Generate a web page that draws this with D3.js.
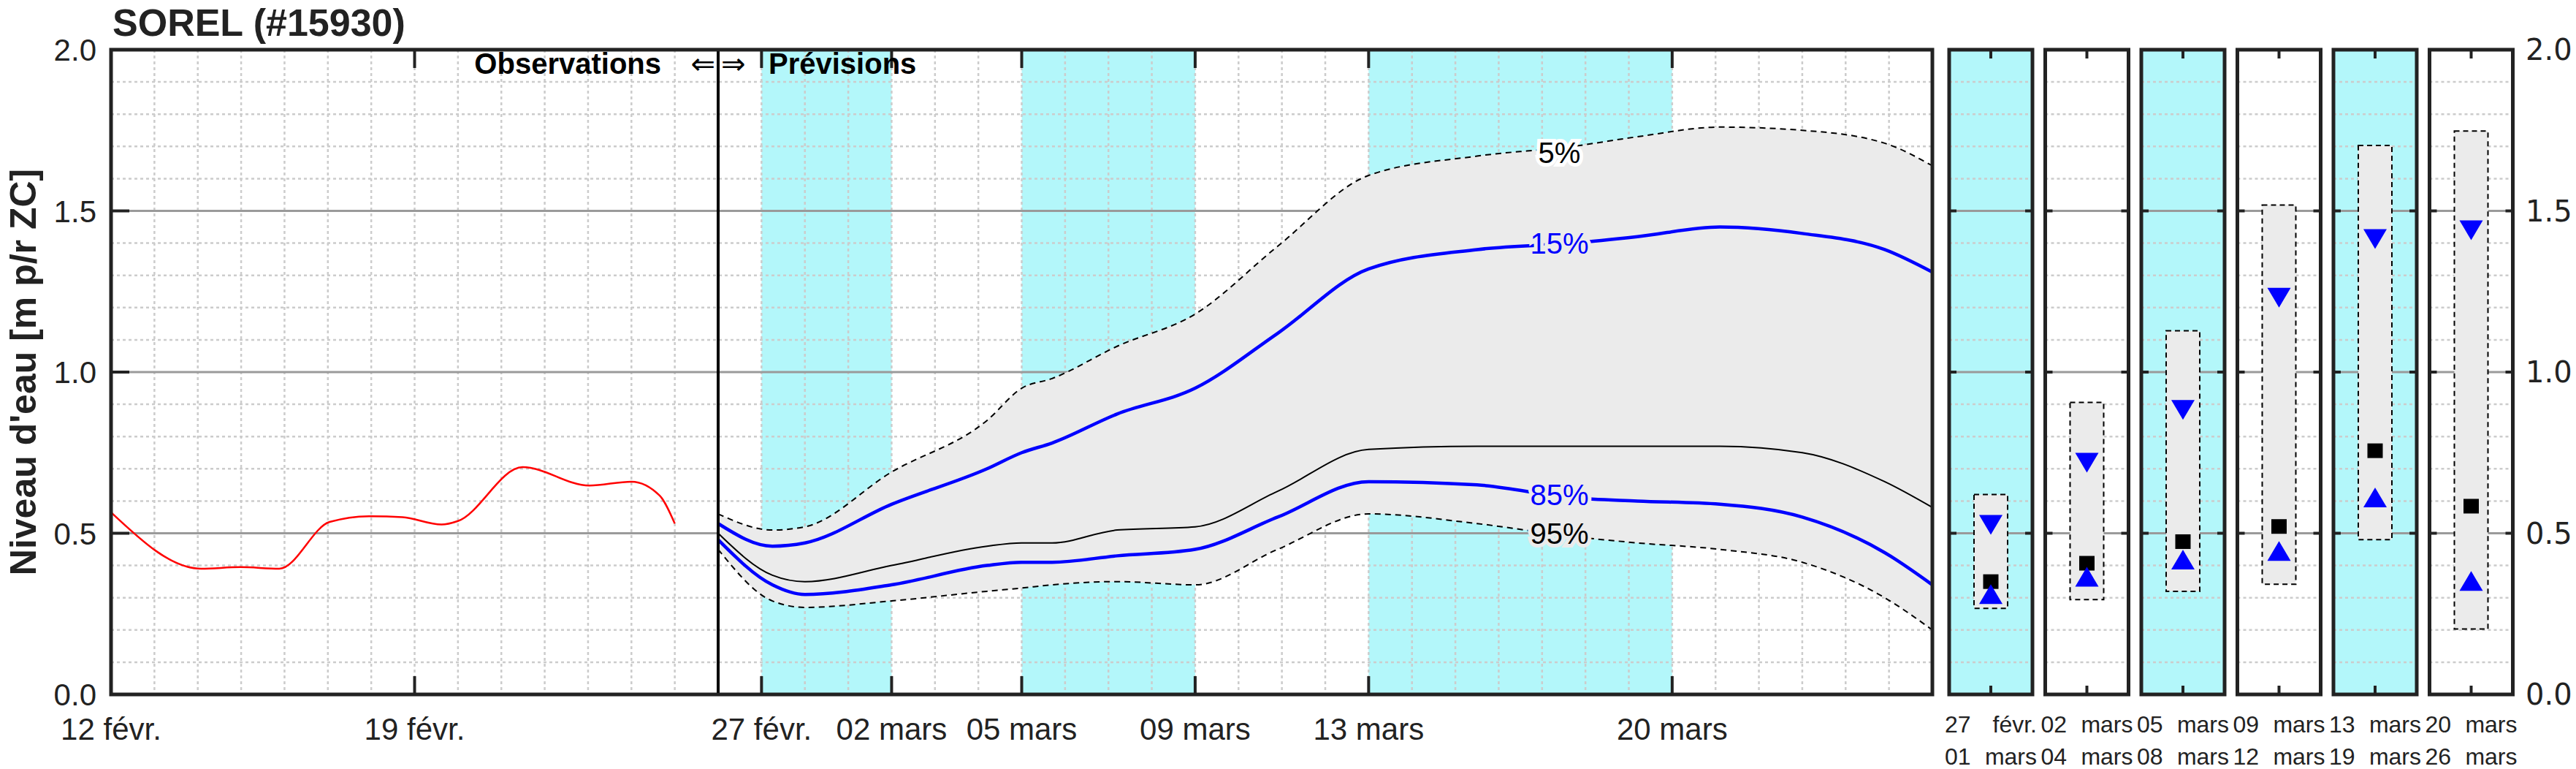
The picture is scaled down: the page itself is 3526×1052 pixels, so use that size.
<!DOCTYPE html>
<html><head><meta charset="utf-8">
<script src="https://cdn.jsdelivr.net/npm/d3@7"></script>
<style>body{margin:0;background:#fff}svg{display:block}</style>
</head><body>
<svg id="chart" width="3526" height="1052"></svg>
<script>
// observations (days since 12 févr.)
const obsDays = [0, 2.08, 2.98, 3.88, 5.04, 5.95, 6.72, 7.62, 8.0, 9.49, 11.03, 12.0, 12.65, 13.0];
const obsVals = [0.565, 0.39, 0.395, 0.39, 0.535, 0.553, 0.55, 0.527, 0.538, 0.705, 0.648, 0.66, 0.617, 0.53];

const fcDays = [14, 15.25, 16, 18, 20.2, 21, 21.7, 23.2, 25, 26.9, 29, 31.5, 33.7, 35.2, 37.1, 39, 40.9, 42];
const p5  = [0.56, 0.51, 0.52, 0.69, 0.85, 0.95, 0.98, 1.08, 1.18, 1.39, 1.61, 1.67, 1.70, 1.73, 1.76, 1.75, 1.71, 1.64];
const p15 = [0.53, 0.46, 0.47, 0.59, 0.70, 0.75, 0.78, 0.87, 0.95, 1.12, 1.32, 1.38, 1.40, 1.42, 1.45, 1.43, 1.38, 1.31];
const p50 = [0.50, 0.37, 0.35, 0.40, 0.46, 0.47, 0.47, 0.51, 0.52, 0.63, 0.76, 0.77, 0.77, 0.77, 0.77, 0.75, 0.66, 0.58];
const p85 = [0.48, 0.34, 0.31, 0.34, 0.40, 0.41, 0.41, 0.43, 0.45, 0.55, 0.66, 0.65, 0.61, 0.60, 0.59, 0.55, 0.44, 0.34];
const p95 = [0.45, 0.29, 0.27, 0.29, 0.32, 0.33, 0.34, 0.35, 0.34, 0.45, 0.56, 0.53, 0.49, 0.47, 0.45, 0.41, 0.30, 0.20];

const pctLabels = ["5%", "15%", "85%", "95%"];
const pctLabelVals = [1.68, 1.40, 0.62, 0.50];

const cyanBands = [[15, 18], [21, 25], [29, 36]];
const dateTicks = [0, 7, 15, 18, 21, 25, 29, 36];
const dateLabels = ["12 févr.", "19 févr.", "27 févr.", "02 mars", "05 mars", "09 mars", "13 mars", "20 mars"];

// period panels
const periodTop = ["27|févr.", "02|mars", "05|mars", "09|mars", "13|mars", "20|mars"];
const periodBot = ["01|mars", "04|mars", "08|mars", "12|mars", "19|mars", "26|mars"];
const periodCyan = [true, false, true, false, true, false];
const periodMax = [0.62, 0.906, 1.128, 1.518, 1.703, 1.748];
const periodMin = [0.267, 0.294, 0.32, 0.342, 0.48, 0.203];
const periodHi = [0.527, 0.72, 0.884, 1.232, 1.414, 1.441];
const periodMed = [0.35, 0.407, 0.474, 0.521, 0.756, 0.584];
const periodLo = [0.31, 0.364, 0.417, 0.444, 0.61, 0.351];

const yTicks = [0, 0.5, 1.0, 1.5, 2.0];

const svg = d3.select("#chart");
const L = 152, R = 2645, T = 68, B = 950;
const x = d3.scaleLinear().domain([0, 42]).range([L, R]);
const y = d3.scaleLinear().domain([0, 2]).range([B, T]);
const font = "'Liberation Sans', Arial, sans-serif";

// cyan bands
svg.selectAll(".band").data(cyanBands).enter().append("rect")
  .attr("x", d => x(d[0])).attr("width", d => x(d[1]) - x(d[0]))
  .attr("y", T).attr("height", B - T).attr("fill", "#b3f7fa");

// grid
const minor = d3.range(0.1, 2, 0.1).filter(v => Math.abs(v * 2 - Math.round(v * 2)) > 0.01);
svg.append("g").selectAll("line").data(minor).enter().append("line")
  .attr("x1", L).attr("x2", R).attr("y1", d => y(d)).attr("y2", d => y(d))
  .attr("stroke", "#ccc").attr("stroke-width", 2.5).attr("stroke-dasharray", "4,4");
svg.append("g").selectAll("line").data(d3.range(1, 42)).enter().append("line")
  .attr("y1", T).attr("y2", B).attr("x1", d => x(d)).attr("x2", d => x(d))
  .attr("stroke", "#ccc").attr("stroke-width", 2.5).attr("stroke-dasharray", "4,4");
svg.append("g").selectAll("line").data([0.5, 1, 1.5]).enter().append("line")
  .attr("x1", L).attr("x2", R).attr("y1", d => y(d)).attr("y2", d => y(d))
  .attr("stroke", "#9a9a9a").attr("stroke-width", 3);

// forecast envelope
const area = d3.area().x((d, i) => x(fcDays[i])).y0((d, i) => y(p95[i])).y1(d => y(d)).curve(d3.curveMonotoneX);
svg.append("path").attr("d", area(p5)).attr("fill", "#ebebeb");
const line = d3.line().x((d, i) => x(fcDays[i])).y(d => y(d)).curve(d3.curveMonotoneX);
svg.append("path").attr("d", line(p5)).attr("fill", "none").attr("stroke", "#000").attr("stroke-width", 2).attr("stroke-dasharray", "8,6");
svg.append("path").attr("d", line(p95)).attr("fill", "none").attr("stroke", "#000").attr("stroke-width", 2).attr("stroke-dasharray", "8,6");
svg.append("path").attr("d", line(p50)).attr("fill", "none").attr("stroke", "#000").attr("stroke-width", 2);
svg.append("path").attr("d", line(p15)).attr("fill", "none").attr("stroke", "#0000ff").attr("stroke-width", 4.5);
svg.append("path").attr("d", line(p85)).attr("fill", "none").attr("stroke", "#0000ff").attr("stroke-width", 4.5);

const obsLine = d3.line().x((d, i) => x(obsDays[i])).y(d => y(d)).curve(d3.curveMonotoneX);
svg.append("path").attr("d", obsLine(obsVals)).attr("fill", "none").attr("stroke", "#ff0000").attr("stroke-width", 2.5);

// percentile labels
const pctColors = ["#000", "#0000ff", "#0000ff", "#000"];
pctLabels.forEach((t, i) => {
  svg.append("text").attr("x", x(33.4)).attr("y", y(pctLabelVals[i])).attr("dy", "0.35em")
    .attr("text-anchor", "middle").attr("font-family", font).attr("font-size", 40)
    .attr("fill", pctColors[i]).attr("stroke", i === 0 ? "#fff" : "#ebebeb").attr("stroke-width", 10)
    .attr("paint-order", "stroke").text(t);
});

// separator + frame
svg.append("line").attr("x1", x(14)).attr("x2", x(14)).attr("y1", T).attr("y2", B).attr("stroke", "#000").attr("stroke-width", 4);
svg.append("rect").attr("x", L).attr("y", T).attr("width", R - L).attr("height", B - T)
  .attr("fill", "none").attr("stroke", "#222").attr("stroke-width", 5);

// ticks
const ax = svg.append("g").attr("font-family", font).attr("font-size", 42).attr("fill", "#222");
dateTicks.forEach((d, i) => {
  ax.append("line").attr("x1", x(d)).attr("x2", x(d)).attr("y1", B).attr("y2", B - 25).attr("stroke", "#222").attr("stroke-width", 4);
  ax.append("line").attr("x1", x(d)).attr("x2", x(d)).attr("y1", T).attr("y2", T + 25).attr("stroke", "#222").attr("stroke-width", 4);
  ax.append("text").attr("x", x(d)).attr("y", 1012).attr("text-anchor", "middle").text(dateLabels[i]);
});
yTicks.forEach(v => {
  ax.append("line").attr("x1", L).attr("x2", L + 25).attr("y1", y(v)).attr("y2", y(v)).attr("stroke", "#222").attr("stroke-width", 4);
  ax.append("text").attr("x", L - 20).attr("y", y(v)).attr("dy", "0.36em").attr("text-anchor", "end").text(v.toFixed(1));
});

svg.append("text").attr("x", L + 2).attr("y", 49).attr("font-family", font).attr("font-weight", "bold")
  .attr("font-size", 52).attr("fill", "#222").text("SOREL (#15930)");
svg.append("text").attr("transform", `translate(49,${(T + B) / 2}) rotate(-90)`).attr("text-anchor", "middle")
  .attr("font-family", font).attr("font-weight", "bold").attr("font-size", 50).attr("fill", "#222").text("Niveau d'eau [m p/r ZC]");
svg.append("text").attr("x", 905).attr("y", 101).attr("text-anchor", "end").attr("font-family", font)
  .attr("font-weight", "bold").attr("font-size", 40).text("Observations");
svg.append("text").attr("x", x(14) - 4).attr("y", 101).attr("text-anchor", "end").attr("font-family", "'DejaVu Sans'")
  .attr("font-size", 40).text("⇐");
svg.append("text").attr("x", x(14) + 4).attr("y", 101).attr("font-family", "'DejaVu Sans'").attr("font-size", 40).text("⇒");
svg.append("text").attr("x", 1052).attr("y", 101).attr("font-family", font)
  .attr("font-weight", "bold").attr("font-size", 40).text("Prévisions");

// period panels
const pw = 114, pitch = 131.5, p0 = 2668;
periodMax.forEach((mx, i) => {
  const px = p0 + i * pitch, cx = px + pw / 2;
  const g = svg.append("g");
  g.append("rect").attr("x", px).attr("y", T).attr("width", pw).attr("height", B - T).attr("fill", periodCyan[i] ? "#b3f7fa" : "#fff");
  minor.forEach(v => g.append("line").attr("x1", px).attr("x2", px + pw).attr("y1", y(v)).attr("y2", y(v))
    .attr("stroke", "#ccc").attr("stroke-width", 2.5).attr("stroke-dasharray", "4,4"));
  [0.5, 1, 1.5].forEach(v => {
    g.append("line").attr("x1", px).attr("x2", px + pw).attr("y1", y(v)).attr("y2", y(v)).attr("stroke", "#9a9a9a").attr("stroke-width", 3);
    g.append("line").attr("x1", px).attr("x2", px + 10).attr("y1", y(v)).attr("y2", y(v)).attr("stroke", "#222").attr("stroke-width", 4);
    g.append("line").attr("x1", px + pw - 10).attr("x2", px + pw).attr("y1", y(v)).attr("y2", y(v)).attr("stroke", "#222").attr("stroke-width", 4);
  });
  g.append("rect").attr("x", cx - 23).attr("width", 46).attr("y", y(mx)).attr("height", y(periodMin[i]) - y(mx))
    .attr("fill", "#ebebeb").attr("stroke", "#000").attr("stroke-width", 2).attr("stroke-dasharray", "7,5");
  g.append("path").attr("d", `M${cx - 16},${y(periodHi[i]) - 13}L${cx + 16},${y(periodHi[i]) - 13}L${cx},${y(periodHi[i]) + 14}Z`).attr("fill", "#0000ff");
  g.append("rect").attr("x", cx - 10.5).attr("y", y(periodMed[i]) - 10).attr("width", 21).attr("height", 20).attr("fill", "#000");
  g.append("path").attr("d", `M${cx - 16},${y(periodLo[i]) + 13}L${cx + 16},${y(periodLo[i]) + 13}L${cx},${y(periodLo[i]) - 14}Z`).attr("fill", "#0000ff");
  g.append("line").attr("x1", cx).attr("x2", cx).attr("y1", T).attr("y2", T + 12).attr("stroke", "#222").attr("stroke-width", 4);
  g.append("line").attr("x1", cx).attr("x2", cx).attr("y1", B).attr("y2", B - 12).attr("stroke", "#222").attr("stroke-width", 4);
  g.append("rect").attr("x", px).attr("y", T).attr("width", pw).attr("height", B - T).attr("fill", "none").attr("stroke", "#222").attr("stroke-width", 5);
  [[periodTop[i], 1002], [periodBot[i], 1046]].forEach(([s, yy]) => {
    const [n, m] = s.split("|");
    g.append("text").attr("x", px - 6).attr("y", yy).attr("font-family", font).attr("font-size", 32).attr("fill", "#222").text(n);
    g.append("text").attr("x", px + pw + 6).attr("y", yy).attr("text-anchor", "end").attr("font-family", font).attr("font-size", 32).attr("fill", "#222").text(m);
  });
});
yTicks.forEach(v => {
  svg.append("text").attr("x", 3457).attr("y", y(v)).attr("dy", "0.36em").attr("font-family", "'DejaVu Sans', sans-serif")
    .attr("font-size", 40).attr("fill", "#222").text(v.toFixed(1));
});
</script>
</body></html>
